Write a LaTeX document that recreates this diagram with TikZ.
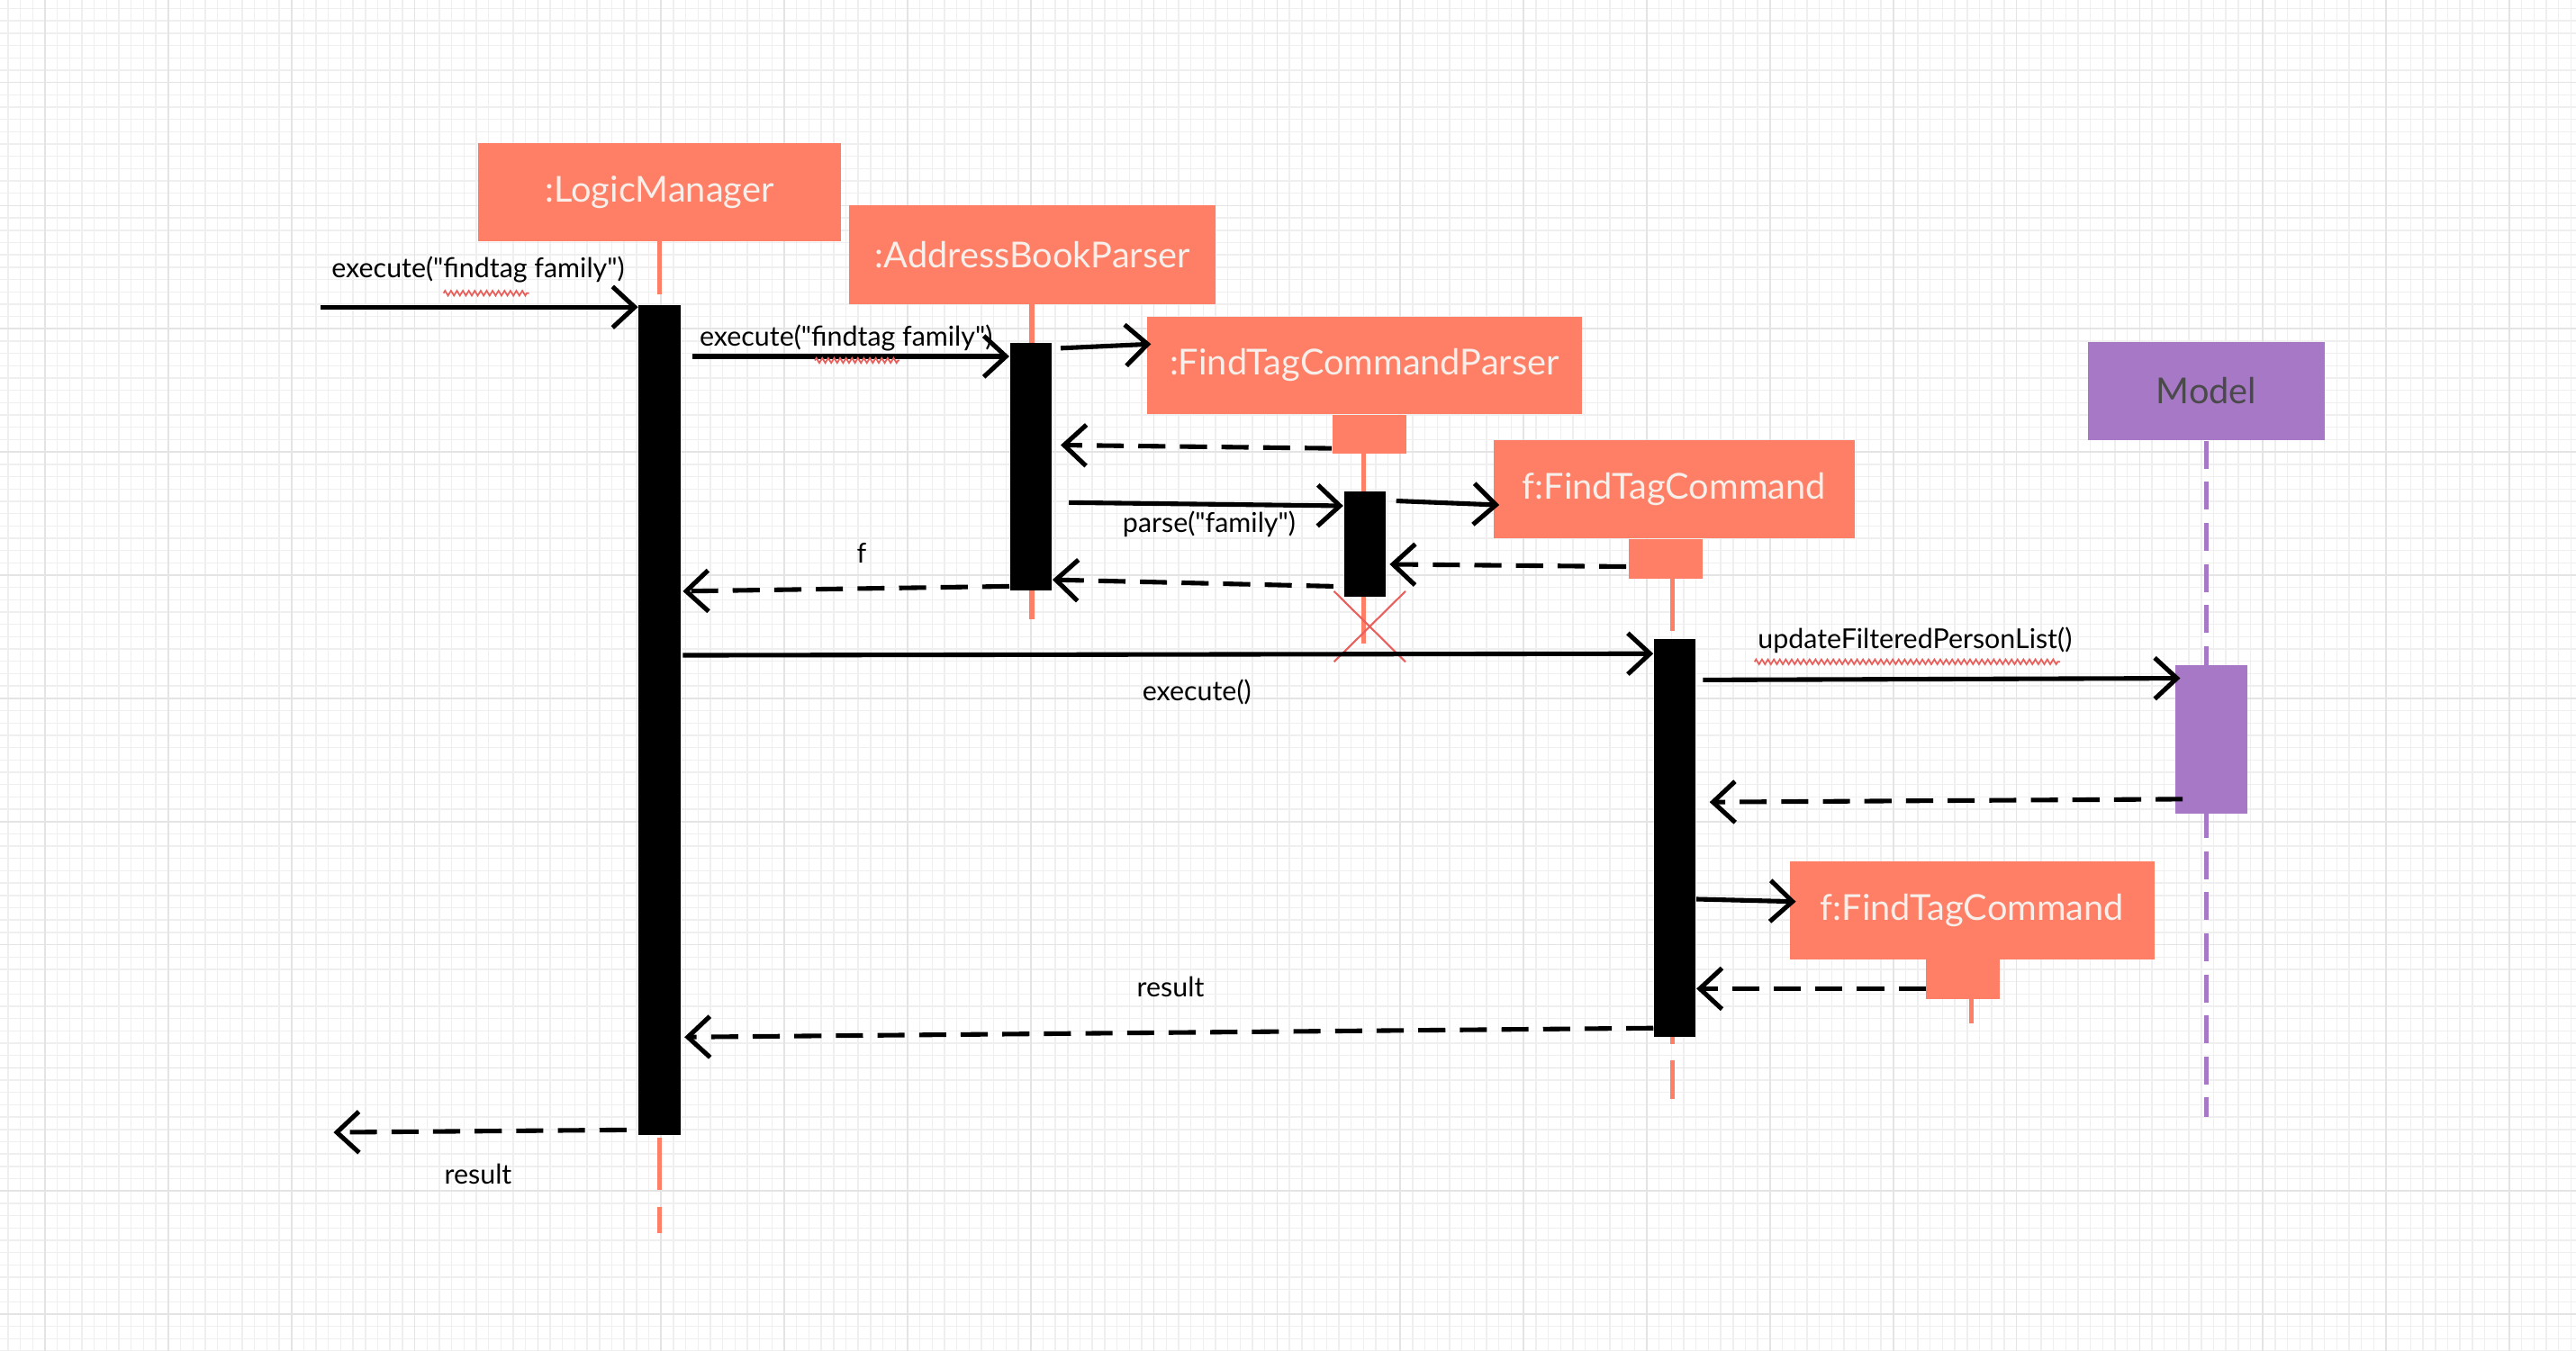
\documentclass[tikz,border=0pt]{standalone}
\usepackage{fontspec}
\setmainfont{Lato}[Ligatures=TeXOff]
\usetikzlibrary{arrows.meta,calc,decorations.pathmorphing}
\newdimen\px \px=0.18246mm
\definecolor{salmon}{HTML}{FF7F66}
\definecolor{objtext}{HTML}{F8EEEA}
\definecolor{modelfill}{HTML}{A678C6}
\definecolor{modeltext}{HTML}{4A4A4A}
\definecolor{gridminor}{HTML}{EFEFEF}
\definecolor{gridmajor}{HTML}{E4E4E4}
\definecolor{xred}{HTML}{E8605C}
\tikzset{
  obj/.style={fill=salmon, text=objtext, inner sep=0pt,
    font=\fontsize{11.3}{13}\selectfont},
  tab/.style={fill=salmon, inner sep=0pt, minimum width=8.2mm, minimum height=4.38mm},
  bar/.style={fill=black, inner sep=0pt, minimum width=4.65mm, anchor=north},
  life/.style={salmon, line width=0.55mm, dash pattern=on 5.84mm off 1.82mm},
  msg/.style={line width=1.45pt, -{Straight Barb[length=2.46mm,width=4.56mm]}},
  ret/.style={msg, dash pattern=on 3.01mm off 1.61mm},
  lbl/.style={font=\fontsize{8.65}{10}\selectfont, inner sep=0pt},
  wavy/.style={xred, line width=0.5pt, decorate,
    decoration={zigzag, amplitude=0.27mm, segment length=0.66mm}},
}
\begin{document}
\begin{tikzpicture}[x=0.18246mm,y=-0.18246mm]
\useasboundingbox (0,0) rectangle (1568,822.6);
\fill[white] (0,0) rectangle (1568,822.6);
% background grid
\foreach \k in {-3,...,205}
  \draw[gridminor, line width=0.4pt] ({27.4+7.5*\k},0) -- ({27.4+7.5*\k},822.6);
\foreach \k in {-6,...,104}
  \draw[gridminor, line width=0.4pt] (0,{50.2+7.5*\k}) -- (1568,{50.2+7.5*\k});
\foreach \k in {-1,...,20}
  \draw[gridmajor, line width=0.5pt] ({27.4+75*\k},0) -- ({27.4+75*\k},822.6);
\foreach \k in {-1,...,10}
  \draw[gridmajor, line width=0.5pt] (0,{50.2+75*\k}) -- (1568,{50.2+75*\k});

% objects
\node[obj, minimum width=221\px, minimum height=60\px] (lm) at (401.5,117) {:LogicManager};
\node[obj, minimum width=223\px, minimum height=60\px] (abp) at (628.5,155) {:AddressBookParser};
\node[obj, minimum width=265\px, minimum height=59\px] (ftcp) at (830.5,222.5) {:FindTagCommandParser};
\node[tab, anchor=north] (ftcptab) at (833.5,252) {};
\node[obj, minimum width=220\px, minimum height=60\px] (fc) at (1019,298) {f:FindTagCommand};
\node[tab, anchor=north] (fctab) at (1013.75,328) {};
\node[obj, fill=modelfill, text=modeltext, minimum width=144\px, minimum height=60\px] (model) at (1343,238) {Model};
\node[obj, minimum width=222\px, minimum height=59.5\px] (fc2) at (1200.5,554.25) {f:FindTagCommand};
\node[tab, anchor=north] (fc2tab) at (1195,584) {};

% lifelines
\draw[life] (401.5,147) -- (401.5,751);
\draw[life] (628,185) -- (628,377);
\draw[life] (830,276) -- (830,393);
\draw[life] (1018,352) -- (1018,669);
\draw[life] (1200,608) -- (1200,623);
\draw[modelfill, line width=0.55mm, dash pattern=on 3.1mm off 1.46mm] (model.south) -- (1343,680);

% activation bars
\node[bar, minimum height=505.2\px] (lmbar) at (401.5,185.4) {};
\node[bar, minimum height=151\px] (abpbar) at (627.5,208.3) {};
\node[bar, minimum height=64\px] (ftcpbar) at (830.75,299) {};
\node[bar, minimum height=242\px] (fbar) at (1019.5,389) {};
\node[bar, fill=modelfill, minimum width=44\px, minimum height=90.5\px] (mbar) at (1346,404.5) {};

% destruction of the parser
\draw[xred, line width=0.6pt] (812,360) -- (855.5,403) (855.5,360) -- (812,403);

% messages
\coordinate (src) at (195,187);
\draw[msg] (src) -- (lmbar.west |- src);
\node[lbl] (l1) at (291,164) {execute("findtag family")};
\draw[wavy] (270,178.5) -- (322,178.5);

\draw[msg] ($(lmbar.east |- 0,217)+(7,0)$) -- (abpbar.west |- 0,217);
\node[lbl] (l2) at (515,206) {execute("findtag family")};
\draw[wavy] (496,219.5) -- (547.5,219.5);

\draw[msg] ($(abpbar.east |- 0,212)+(5,0)$) -- ($(ftcp.west |- 0,209.5)+(3,0)$);
\draw[ret] (ftcptab.west |- 0,273) -- ($(abpbar.east |- 0,271)+(5,0)$);

\draw[msg] ($(abpbar.east |- 0,306)+(10,0)$) -- (ftcpbar.west |- 0,308);
\node[lbl] (l3) at (736,319) {parse("family")};

\draw[msg] ($(ftcpbar.east |- 0,305)+(6,0)$) -- ($(fc.west |- 0,307.5)+(4,0)$);
\draw[ret] ($(fctab.west |- 0,345)+(-1,0)$) -- ($(ftcpbar.east |- 0,343.6)+(2,0)$);
\draw[ret] ($(ftcpbar.west |- 0,357)+(-6,0)$) -- (abpbar.east |- 0,353);

\draw[ret] (abpbar.west |- 0,357) -- ($(lmbar.east |- 0,360)+(1,0)$);
\node[lbl] (l4) at (524.5,337) {f};

\draw[msg] ($(lmbar.east |- 0,399)+(1,0)$) -- (fbar.west |- 0,398);
\node[lbl] (l5) at (728.5,421.5) {execute()};

\draw[msg] ($(fbar.east |- 0,414)+(4,0)$) -- ($(mbar.west |- 0,413)+(3.5,0)$);
\node[lbl] (l6) at (1165.6,390) {updateFilteredPersonList()};
\draw[wavy] (1068,403) -- (1254,403);

\draw[ret] ($(mbar.west |- 0,486.6)+(5,0)$) -- ($(fbar.east |- 0,488.4)+(8,0)$);

\draw[msg] (fbar.east |- 0,547.5) -- ($(fc2.west |- 0,549)+(4,0)$);
\draw[ret] (fc2tab.west |- 0,602) -- (fbar.east |- 0,602);

\draw[ret] (fbar.west |- 0,626) -- ($(lmbar.east |- 0,631.5)+(2,0)$);
\node[lbl] (l7) at (712.5,601) {result};

\coordinate (dst) at (203,689.5);
\draw[ret] ($(lmbar.west |- 0,688)+(-7,0)$) -- (dst);
\node[lbl] (l8) at (291,715) {result};
\end{tikzpicture}
\end{document}
